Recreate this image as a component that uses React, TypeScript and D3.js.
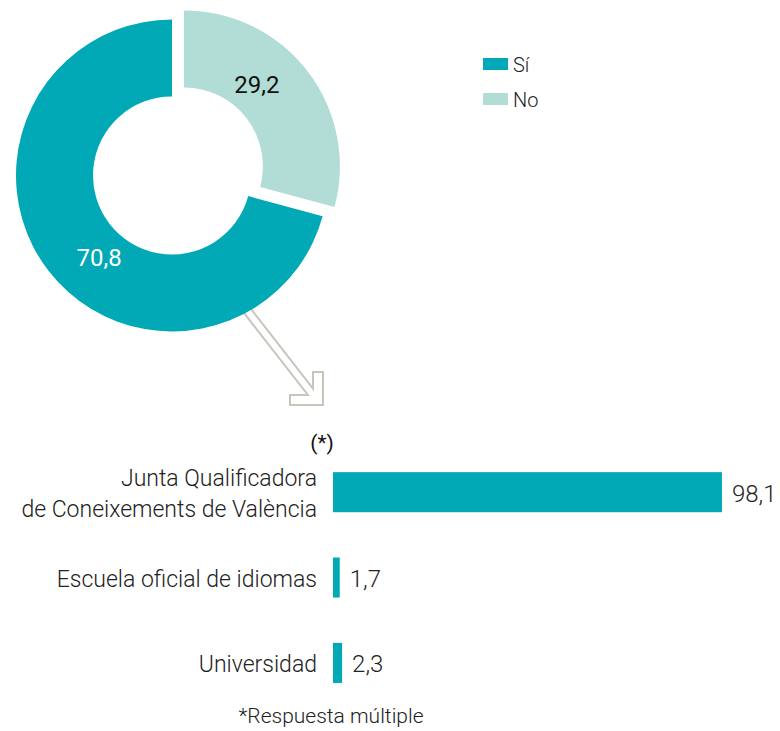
import React, { useRef, useEffect } from "react";
import * as d3 from "d3";

// donut data
const pieLabels = ["No", "Sí"];
const pieValues = [29.2, 70.8];
const pieColors = ["#b2ddd6", "#00a9b5"];
const pieTextColors = ["#111111", "#ffffff"];

// bar data (respuesta múltiple)
const barCategories = ["Junta Qualificadora\nde Coneixements de València", "Escuela oficial de idiomas", "Universidad"];
const barValues = [98.1, 1.7, 2.3];

const fmt = (v: number) => String(v).replace(".", ",");

const W = 780;
const H = 731;
const FONT = "Roboto, 'Noto Sans', sans-serif";

const App = () => {
    const svgRef = useRef<SVGSVGElement>(null);

    useEffect(() => {
        const svg = d3.select(svgRef.current);
        svg.selectAll("*").remove();

        const cx = 172, cy = 175.5;
        const rOuter = 156, rInner = 79;
        const explode = 15;

        // arrow (behind the donut)
        const tip: [number, number] = [323, 405];
        const arm = 33, thick = 10, half = 4;
        const d = [0.615, 0.789];
        const n = [d[1], -d[0]];
        const ix = tip[0] - thick, iy = tip[1] - thick;
        const up = [ix + n[0] * half, iy + n[1] * half];
        const lo = [ix - n[0] * half, iy - n[1] * half];
        const tUp = (ix - up[0]) / d[0];
        const upHit = [ix, up[1] + tUp * d[1]];
        const tLo = (iy - lo[1]) / d[1];
        const loHit = [lo[0] + tLo * d[0], iy];
        const back = 130;
        const arrowPts = [
            [up[0] - d[0] * back, up[1] - d[1] * back],
            upHit,
            [ix, tip[1] - arm],
            [tip[0], tip[1] - arm],
            tip,
            [tip[0] - arm, tip[1]],
            [tip[0] - arm, iy],
            loHit,
            [lo[0] - d[0] * back, lo[1] - d[1] * back],
        ];
        svg.append("path")
            .attr("d", d3.line()(arrowPts as [number, number][]) + "Z")
            .style("fill", "#ffffff")
            .style("stroke", "#c6c6bc")
            .style("stroke-width", 2);

        // donut
        const pie = d3.pie<number>().sort(null).value((v) => v);
        const arcs = pie(pieValues);
        const arc = d3.arc<d3.PieArcDatum<number>>().innerRadius(rInner).outerRadius(rOuter);
        const labelArc = d3.arc<any>().innerRadius(110).outerRadius(110);

        const g = svg.append("g").attr("transform", `translate(${cx}, ${cy})`);
        arcs.forEach((a, i) => {
            const mid = (a.startAngle + a.endAngle) / 2;
            const off = i === 0 ? explode : 0;
            const sg = g.append("g")
                .attr("transform", `translate(${Math.sin(mid) * off}, ${-Math.cos(mid) * off})`);
            sg.append("path")
                .attr("d", arc(a))
                .style("fill", pieColors[i]);
            const la = mid - (11 * Math.PI) / 180;
            const [lx, ly] = labelArc.centroid({ startAngle: la, endAngle: la });
            sg.append("text")
                .attr("x", lx)
                .attr("y", ly + 8.5)
                .attr("text-anchor", "middle")
                .style("font-family", FONT)
                .style("font-size", "24px")
                .style("font-weight", 400)
                .style("fill", pieTextColors[i])
                .text(fmt(pieValues[i]));
        });

        // legend
        const legendOrder = [1, 0];
        const lg = svg.append("g").attr("transform", "translate(483, 58)");
        legendOrder.forEach((idx, k) => {
            const row = lg.append("g").attr("transform", `translate(0, ${k * 35})`);
            row.append("rect").attr("width", 25).attr("height", 12).style("fill", pieColors[idx]);
            row.append("text")
                .attr("x", 30)
                .attr("y", 13.5)
                .style("font-family", FONT)
                .style("font-size", "20px")
                .style("font-weight", 300)
                .style("fill", "#222")
                .text(pieLabels[idx]);
        });

        // bars
        const x = d3.scaleLinear().domain([0, 100]).range([333, 729.5]);
        const y = d3.scaleBand<string>()
            .domain(barCategories)
            .range([449.5, 705.6])
            .paddingInner(0.531)
            .paddingOuter(0.2655);

        const bg = svg.append("g");
        bg.selectAll("rect")
            .data(barValues)
            .enter()
            .append("rect")
            .attr("x", x(0))
            .attr("y", (v, i) => y(barCategories[i]) as number)
            .attr("width", (v) => x(v) - x(0))
            .attr("height", y.bandwidth())
            .style("fill", pieColors[1]);

        bg.selectAll("text.val")
            .data(barValues)
            .enter()
            .append("text")
            .attr("class", "val")
            .attr("x", (v) => x(v) + 10)
            .attr("y", (v, i) => (y(barCategories[i]) as number) + y.bandwidth() / 2 + 9.5)
            .style("font-family", FONT)
            .style("font-size", "24px")
            .style("font-weight", 300)
            .style("fill", "#222")
            .text((v) => fmt(v));

        barCategories.forEach((c, i) => {
            const lines = c.split("\n");
            const yc = (y(c) as number) + y.bandwidth() / 2;
            const lh = 31.5;
            const t = svg.append("text")
                .attr("text-anchor", "end")
                .style("font-family", FONT)
                .style("font-size", "23px")
                .style("font-weight", 300)
                .style("fill", "#222");
            lines.forEach((ln, j) => {
                t.append("tspan")
                    .attr("x", 317)
                    .attr("y", yc + 9.5 + (j - (lines.length - 1) / 2) * lh)
                    .text(ln);
            });
        });

        svg.append("text")
            .attr("x", 322)
            .attr("y", 450)
            .attr("text-anchor", "middle")
            .style("font-family", FONT)
            .style("font-size", "21px")
            .style("font-weight", 400)
            .style("fill", "#111")
            .text("(*)");

        svg.append("text")
            .attr("x", 331)
            .attr("y", 723)
            .attr("text-anchor", "middle")
            .style("font-family", FONT)
            .style("font-size", "21px")
            .style("font-weight", 300)
            .style("fill", "#222")
            .text("*Respuesta múltiple");
    }, []);

    return (
        <div>
            <svg ref={svgRef} width={W} height={H} style={{ position: "absolute", left: 0, top: 0, background: "#fff" }}></svg>
        </div>
    );
};

export default App;
